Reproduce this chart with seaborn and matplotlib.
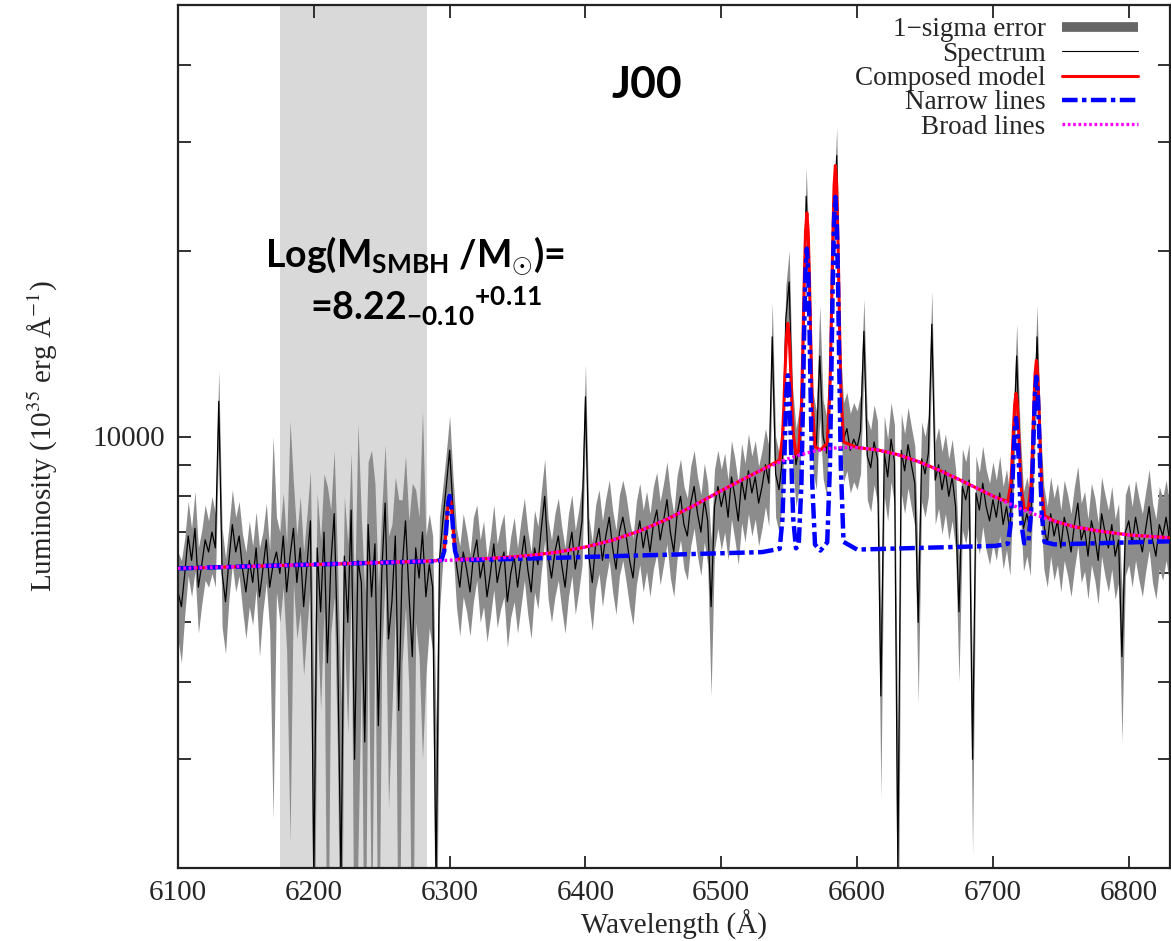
import numpy as np
import matplotlib
matplotlib.use("Agg")
import matplotlib.pyplot as plt
import seaborn as sns
from matplotlib.lines import Line2D
from matplotlib.ticker import FixedLocator, FixedFormatter, NullFormatter
from matplotlib.font_manager import FontProperties

# ---------------------------------------------------------------- data
# Observed spectrum, sampled every 2.5 A starting at 6100 A (10^35 erg/s/A)
spec_flux = [
    5600, 5300, 6000, 6900, 6300, 7100, 5700, 6200, 6800, 6500,
    7000, 6600, 11400, 6000, 5400, 6300, 7200, 6500, 6900, 6100,
    5600, 6300, 5800, 6600, 5500, 6100, 6800, 5700, 6200, 6500,
    6000, 6900, 5600, 6400, 7100, 5800, 6600, 5300, 6200, 7300,
    1900, 6600, 5200, 7000, 4300, 6200, 7500, 4600, 1900, 6400,
    5000, 7600, 3000, 6300, 5800, 3200, 7200, 5500, 6700, 3400,
    6000, 7800, 4700, 5400, 6900, 3600, 6100, 7300, 5600, 4400,
    6600, 5900, 7000, 5500, 6200, 5700, 1900, 6300, 7300, 8300,
    9500, 7600, 6200, 5700, 6500, 6100, 5600, 6400, 6800, 5900,
    6300, 5500, 6000, 6700, 5800, 6200, 6500, 5400, 6000, 6400,
    5700, 6300, 6900, 6100, 5600, 6600, 6200, 7100, 8000, 6400,
    5900, 6500, 6900, 6200, 5700, 6500, 7000, 6100, 6600, 7300,
    11600, 6400, 5800, 6700, 7100, 6300, 6900, 7400, 6600, 6100,
    7000, 7400, 6900, 6300, 5900, 6800, 7300, 6600, 7100, 6500,
    7200, 7600, 6800, 7300, 7900, 7000, 6500, 7500, 8000, 7200,
    6900, 7800, 8300, 7500, 7000, 7900, 7300, 5300, 7700, 8300,
    7700, 8200, 7400, 8600, 8000, 7300, 8500, 7900, 8800, 8100,
    8600, 7800, 8300, 9000, 8400, 14500, 8700, 8200, 9200, 15500,
    17800, 10500, 9000, 9700, 13000, 24500, 17000, 10300, 9600, 13500,
    10000, 9400, 12500, 21000, 28500, 12500, 9900, 10300, 9500, 9900,
    9600, 10200, 14800, 9300, 8900, 9800, 9200, 3800, 9400, 8600,
    9900, 9100, 2000, 9500, 8800, 9700, 9000, 8400, 5000, 9200,
    8700, 9400, 15200, 8500, 9000, 8200, 8800, 8000, 8600, 7700,
    5200, 8300, 7900, 8500, 3000, 8100, 7600, 8400, 7700, 7300,
    7900, 7400, 8100, 7200, 7700, 7000, 9500, 13500, 9000, 7100,
    7500, 7000, 10000, 14500, 9000, 7200, 6700, 7500, 6900, 7300,
    6600, 7400, 7000, 6500, 7200, 7800, 6800, 7100, 6400, 7300,
    6900, 6300, 7500, 7000, 6600, 7200, 6400, 6800, 4400, 7000,
    7300, 6700, 7400, 6900, 6500, 7100, 7700, 6800, 6400, 7200,
    6900, 7400, 6800,
]

# 1-sigma uncertainty of the spectrum, same sampling
spec_sigma = [
    900, 1000, 850, 950, 800, 1050, 900, 850, 950, 800,
    1000, 900, 1400, 1100, 950, 850, 1000, 900, 950, 850,
    900, 1000, 850, 950, 1100, 900, 1000, 850, 3800, 900,
    1000, 1200, 1100, 4200, 1300, 1100, 1400, 1200, 1300, 1500,
    1800, 1500, 1600, 1700, 4000, 1400, 2000, 1600, 1800, 1600,
    1700, 1800, 2500, 4200, 1600, 2400, 1900, 4000, 1700, 2300,
    1600, 1900, 2200, 1800, 1700, 4300, 1800, 2000, 1700, 4000,
    1600, 1500, 4000, 1400, 1300, 1200, 1500, 1100, 1000, 1100,
    1300, 1000, 900, 950, 1000, 900, 850, 1000, 950, 900,
    1000, 850, 900, 1050, 900, 950, 1000, 850, 900, 1000,
    900, 1000, 1050, 950, 900, 1000, 950, 1050, 1200, 950,
    900, 1000, 1050, 950, 900, 1000, 1050, 950, 1000, 1100,
    1500, 1000, 950, 1050, 1100, 1000, 1050, 1100, 1000, 950,
    1050, 1100, 1100, 1000, 950, 1050, 1100, 1000, 1050, 1000,
    1100, 1150, 1050, 1100, 1200, 1100, 1000, 1150, 1200, 1100,
    1050, 1150, 1200, 1100, 1050, 1150, 1100, 1500, 1150, 1200,
    1150, 1200, 1100, 1250, 1200, 1100, 1250, 1150, 1300, 1200,
    1250, 1150, 1200, 1300, 1250, 2000, 1300, 1200, 1350, 2000,
    2200, 1500, 1300, 1400, 1800, 2800, 2200, 1500, 1400, 2800,
    1450, 1400, 1700, 2500, 3200, 1800, 1450, 1500, 1400, 1450,
    1400, 1500, 1900, 1400, 1350, 1450, 1400, 1200, 1400, 1300,
    1450, 1350, 1000, 1400, 1300, 1450, 1350, 1250, 1300, 1350,
    1300, 1400, 2000, 1300, 1350, 1250, 1300, 1200, 1300, 1150,
    1200, 1250, 1200, 1250, 900, 1200, 1150, 1250, 1150, 1100,
    1200, 1100, 1200, 1100, 1150, 1050, 1400, 1700, 1300, 1050,
    1100, 1050, 1400, 1800, 1300, 1100, 1000, 1100, 1050, 1100,
    1000, 1100, 1050, 1000, 1100, 1150, 1000, 1050, 950, 1100,
    1050, 950, 1100, 1050, 1000, 1100, 950, 1000, 1200, 1050,
    1100, 1000, 1100, 1050, 1000, 1050, 1150, 1000, 950, 1100,
    1050, 1100, 1000,
]

# Fitted model: wavelength grid, continuum, broad H-alpha and narrow lines
model_wave = [
    6100, 6150, 6200, 6250, 6280, 6288,
    6294, 6296, 6297, 6298, 6299, 6300, 6301, 6302, 6303, 6304, 6306,
    6320, 6340, 6360, 6380, 6400, 6420, 6440, 6460, 6480, 6500, 6515, 6530,
    6543, 6545, 6546, 6547, 6548, 6549, 6550, 6551, 6552, 6553, 6555,
    6557, 6559, 6560, 6561, 6562, 6563, 6564, 6565, 6566, 6567, 6569,
    6573,
    6578, 6580, 6581, 6582, 6583, 6584, 6585, 6586, 6587, 6588, 6590,
    6600, 6615, 6630, 6645, 6660, 6675, 6690, 6702,
    6711, 6713, 6714, 6715, 6716, 6717, 6718, 6719, 6720, 6721, 6723,
    6726, 6728, 6729, 6730, 6731, 6732, 6733, 6734, 6735, 6736, 6738,
    6745, 6760, 6780, 6800, 6830,
]
model_continuum = [
    6114, 6159, 6203, 6248, 6274, 6281,
    6287, 6288, 6289, 6290, 6291, 6292, 6293, 6294, 6295, 6296, 6297,
    6310, 6328, 6345, 6363, 6381, 6399, 6417, 6434, 6452, 6470, 6483, 6497,
    6508, 6510, 6511, 6512, 6513, 6514, 6515, 6515, 6516, 6517, 6519,
    6521, 6523, 6523, 6524, 6525, 6526, 6527, 6528, 6529, 6530, 6532,
    6535,
    6540, 6541, 6542, 6543, 6544, 6545, 6546, 6547, 6548, 6548, 6550,
    6559, 6572, 6586, 6599, 6612, 6626, 6639, 6650,
    6658, 6660, 6661, 6662, 6663, 6663, 6664, 6665, 6666, 6667, 6669,
    6671, 6673, 6674, 6675, 6676, 6677, 6678, 6678, 6679, 6680, 6682,
    6688, 6701, 6719, 6737, 6764,
]
model_broad = [
    0, 0, 0, 2, 6, 8,
    10, 10, 11, 11, 11, 12, 12, 12, 13, 13, 14,
    18, 38, 74, 136, 240, 395, 615, 910, 1280, 1700, 2020, 2340,
    2580, 2620, 2640, 2655, 2670, 2685, 2700, 2715, 2730, 2745, 2775,
    2800, 2825, 2838, 2850, 2865, 2878, 2890, 2900, 2912, 2925, 2945,
    2975,
    3010, 3020, 3025, 3030, 3033, 3036, 3040, 3043, 3046, 3048, 3050,
    3036, 2940, 2760, 2510, 2215, 1895, 1570, 1320,
    1145, 1110, 1090, 1070, 1050, 1035, 1015, 1000, 980, 965, 930,
    880, 850, 835, 818, 802, 786, 770, 755, 740, 725, 697,
    610, 440, 300, 190, 90,
]
model_narrow = [
    0, 0, 0, 0, 0, 0,
    20, 230, 560, 1040, 1520, 1720, 1520, 1040, 560, 230, 20,
    0, 0, 0, 0, 0, 0, 0, 0, 0, 0, 0, 0,
    70, 820, 1960, 3670, 5340, 6050, 5340, 3670, 1960, 820, 70,
    150, 1840, 4430, 8270, 12030, 13630, 12030, 8270, 4430, 1840, 150,
    0,
    200, 2420, 5810, 10860, 15800, 17900, 15800, 10860, 5810, 2420, 200,
    0, 0, 0, 0, 0, 0, 0, 0,
    45, 550, 1320, 2460, 3570, 4050, 3570, 2460, 1320, 550, 45,
    65, 790, 1890, 3530, 5140, 5820, 5140, 3530, 1890, 790, 65,
    0, 0, 0, 0, 0,
]

masked_band = (6175, 6283)
x_ticks = [6100, 6200, 6300, 6400, 6500, 6600, 6700, 6800]
y_major = [10000]
y_minor = [2000, 3000, 4000, 5000, 6000, 7000, 8000, 9000, 20000, 30000, 40000]

# ---------------------------------------------------------------- derived
spec_flux = np.asarray(spec_flux, float)
spec_sigma = np.asarray(spec_sigma, float)
spec_wave = 6100 + 2.5 * np.arange(spec_flux.size)

cont = np.asarray(model_continuum, float)
broad_curve = cont + np.asarray(model_broad, float)
narrow_curve = cont + np.asarray(model_narrow, float)
composed_curve = broad_curve + np.asarray(model_narrow, float)
mwave = np.asarray(model_wave, float)

# ---------------------------------------------------------------- style
sns.set_theme(style="ticks")
plt.rcParams.update({
    "font.family": ["Liberation Serif", "DejaVu Serif"],
    "mathtext.fontset": "custom",
    "mathtext.rm": "Lato:bold",
    "mathtext.it": "Lato:bold",
    "mathtext.bf": "Lato:bold",
    "mathtext.sf": "Lato:bold",
    "axes.edgecolor": "#222222",
    "axes.linewidth": 1.6,
})

W, H = 1171, 941
fig = plt.figure(figsize=(W / 100, H / 100), dpi=100)
ax = fig.add_axes([178 / W, 1 - 868 / H, (1169.5 - 178) / W, (868 - 5) / H])
ax.set_facecolor("white")

NARROW_LS = (0, (3.5, 1.0, 1.0, 1.0))
BROAD_LS = (0, (0.8, 0.8))

ax.axvspan(*masked_band, color="#d9d9d9", lw=0, zorder=0)
ax.fill_between(spec_wave, np.clip(spec_flux - spec_sigma, 1000, None),
                spec_flux + spec_sigma, color="#8c8c8c", lw=0, zorder=1)
sns.lineplot(x=spec_wave, y=spec_flux, color="black", lw=0.9,
             estimator=None, ax=ax, zorder=2)
sns.lineplot(x=mwave, y=composed_curve, color="#ff0000", lw=2.2,
             estimator=None, ax=ax, zorder=3)
sns.lineplot(x=mwave, y=narrow_curve, color="#0000ff", lw=3.2,
             linestyle=NARROW_LS, estimator=None, ax=ax, zorder=4)
sns.lineplot(x=mwave, y=broad_curve, color="#ff00ff", lw=2.4,
             linestyle=BROAD_LS, estimator=None, ax=ax, zorder=5)

ax.set_yscale("log")
ax.set_xlim(6100, 6830)
ax.set_ylim(2000, 50000)

ax.xaxis.set_major_locator(FixedLocator(x_ticks))
ax.xaxis.set_major_formatter(FixedFormatter([str(t) for t in x_ticks]))
ax.yaxis.set_major_locator(FixedLocator(y_major))
ax.yaxis.set_major_formatter(FixedFormatter([str(t) for t in y_major]))
ax.yaxis.set_minor_locator(FixedLocator(y_minor))
ax.yaxis.set_minor_formatter(NullFormatter())
ax.tick_params(which="both", direction="in", top=True, right=True,
               color="#222222", width=1.3)
ax.tick_params(which="major", length=9, pad=9, labelsize=21)
ax.tick_params(which="minor", length=9)
for s in ax.spines.values():
    s.set_visible(True)
    s.set_color("#222222")

ax.set_xlabel("Wavelength (Å)", fontsize=21, labelpad=2)
ax.set_ylabel(r"Luminosity (10$^{35}$ erg Å$^{-1}$)", fontsize=21,
              labelpad=24, math_fontfamily="stix")

handles = [
    Line2D([], [], color="#666666", lw=7, solid_capstyle="butt"),
    Line2D([], [], color="black", lw=0.8),
    Line2D([], [], color="#ff0000", lw=2.2),
    Line2D([], [], color="#0000ff", lw=3.2, linestyle=NARROW_LS),
    Line2D([], [], color="#ff00ff", lw=2.4, linestyle=BROAD_LS),
]
labels = ["1\u2212sigma error", "Spectrum", "Composed model",
          "Narrow lines", "Broad lines"]
ax.legend(handles, labels, loc="upper right", bbox_to_anchor=(0.968, 0.986),
          frameon=False, markerfirst=False,
          prop=FontProperties(family="Liberation Serif", size=19.5),
          handlelength=2.8, handletextpad=0.6, labelspacing=-0.02,
          borderpad=0, borderaxespad=0)

lato = dict(family="Lato", fontweight="bold", color="black")
fig.text(647 / W, 1 - 85 / H, "J00", ha="center", va="center", fontsize=32, **lato)
fig.text(265 / W, 1 - 266 / H, r"Log(M$_{\mathrm{SMBH}}$ /M$_{\odot}$)=",
         ha="left", va="baseline", fontsize=27, **lato)
fig.text(310 / W, 1 - 320 / H, r"=8.22${}_{\mathrm{-0.10}}{}^{\mathrm{+0.11}}$",
         ha="left", va="baseline", fontsize=27, **lato)

fig.savefig("out.png", dpi=100)
